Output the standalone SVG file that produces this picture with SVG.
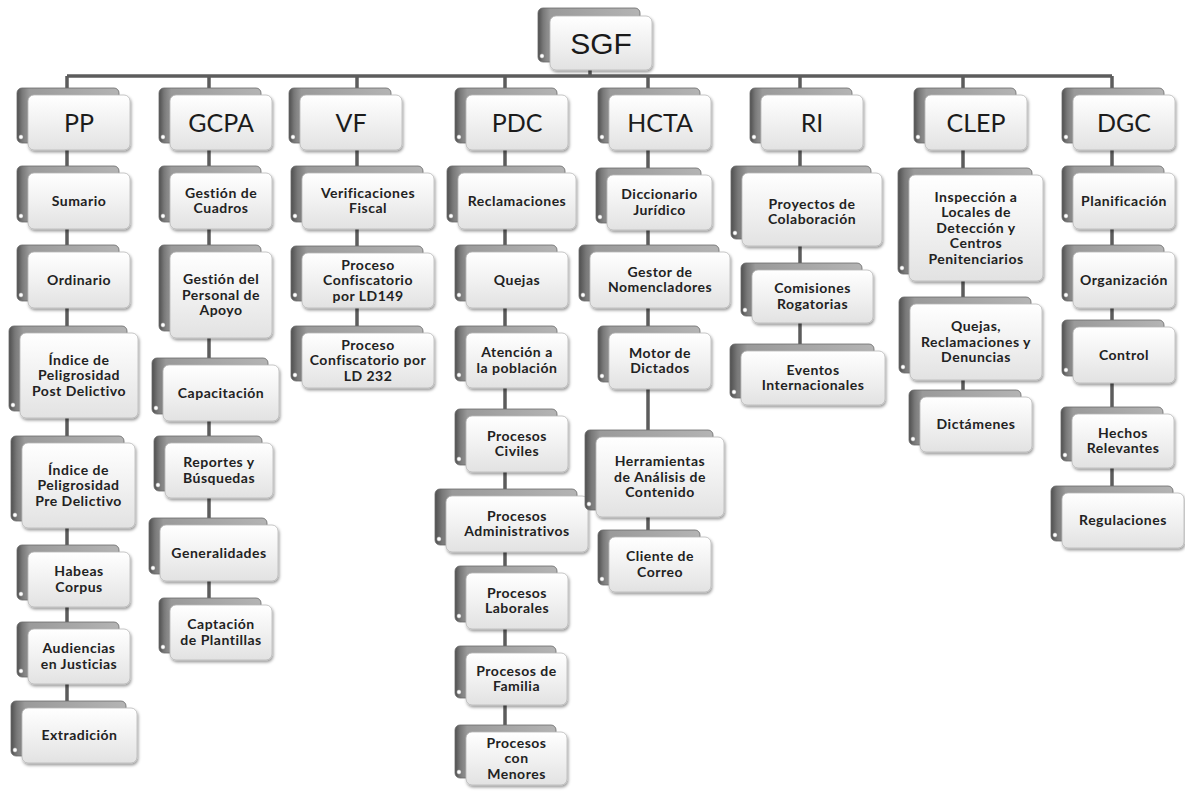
<svg xmlns="http://www.w3.org/2000/svg" width="1185" height="794" viewBox="0 0 1185 794">
  <defs>
    <linearGradient id="gBack" x1="0" y1="0" x2="1" y2="0">
      <stop offset="0" stop-color="#4f4f4f"/>
      <stop offset="0.05" stop-color="#787878"/>
      <stop offset="0.12" stop-color="#9a9a9a"/>
      <stop offset="1" stop-color="#b4b4b4"/>
    </linearGradient>
    <linearGradient id="gFront" x1="0" y1="0" x2="0" y2="1">
      <stop offset="0" stop-color="#ffffff"/>
      <stop offset="0.5" stop-color="#f1f1f1"/>
      <stop offset="1" stop-color="#e2e2e2"/>
    </linearGradient>
    <filter id="sh" x="-10%" y="-10%" width="130%" height="140%">
      <feDropShadow dx="1" dy="2" stdDeviation="1.4" flood-color="#000" flood-opacity="0.4"/>
    </filter>
  </defs>
  <style>
    .bk { fill: url(#gBack); stroke: #6a6a6a; stroke-width: 0.8; }
    .fr { fill: url(#gFront); stroke: #b8b8b8; stroke-width: 0.8; filter: url(#sh); }
    .dot { fill: #ffffff; stroke: #7a7a7a; stroke-width: 0.5; }
    .ln { stroke: #5c5c5c; stroke-width: 3.5; fill: none; }
    .root { font-family: "Liberation Sans", Arial, sans-serif; font-size: 30px; fill: #1a1a1a; text-anchor: middle; }
    .hd { font-family: Lato, "Open Sans", sans-serif; font-size: 25px; fill: #1c1c1c; text-anchor: middle; }
    .lb { font-family: Lato, "Open Sans", sans-serif; font-weight: 700; font-size: 14px; letter-spacing: 0.5px; fill: #222222; text-anchor: middle; }
  </style>
  <rect width="1185" height="794" fill="#ffffff"/>

  <!-- connectors -->
  <g id="connectors">
    <line class="ln" x1="590" y1="68" x2="590" y2="76"/>
    <line class="ln" x1="67" y1="76" x2="1112" y2="76"/>
    <line class="ln" x1="67" y1="76" x2="67" y2="703"/>
    <line class="ln" x1="209" y1="76" x2="209" y2="600"/>
    <line class="ln" x1="357" y1="76" x2="357" y2="328"/>
    <line class="ln" x1="505" y1="76" x2="505" y2="727"/>
    <line class="ln" x1="648" y1="76" x2="648" y2="532"/>
    <line class="ln" x1="800" y1="76" x2="800" y2="346"/>
    <line class="ln" x1="963" y1="76" x2="963" y2="390"/>
    <line class="ln" x1="1112" y1="76" x2="1112" y2="488"/>
  </g>

  <!-- root -->
  <g id="n-sgf">
    <rect class="bk" x="538" y="8" width="102" height="54" rx="5"/>
    <circle class="dot" cx="542" cy="56" r="2.2"/>
    <rect class="fr" x="550" y="16" width="102" height="54" rx="6"/>
    <text class="root" x="601" y="54">SGF</text>
  </g>

  <!-- column headers -->
  <g id="n-pp">
    <rect class="bk" x="17" y="88" width="102" height="55" rx="5"/>
    <circle class="dot" cx="21" cy="137" r="2.2"/>
    <rect class="fr" x="28" y="95" width="102" height="55" rx="6"/>
    <text class="hd" x="79" y="131.5">PP</text>
  </g>
  <g id="n-gcpa">
    <rect class="bk" x="159" y="88" width="102" height="55" rx="5"/>
    <circle class="dot" cx="163" cy="137" r="2.2"/>
    <rect class="fr" x="170" y="95" width="102" height="55" rx="6"/>
    <text class="hd" x="221" y="131.5">GCPA</text>
  </g>
  <g id="n-vf">
    <rect class="bk" x="289" y="88" width="102" height="55" rx="5"/>
    <circle class="dot" cx="293" cy="137" r="2.2"/>
    <rect class="fr" x="300" y="95" width="102" height="55" rx="6"/>
    <text class="hd" x="351" y="131.5">VF</text>
  </g>
  <g id="n-pdc">
    <rect class="bk" x="455" y="88" width="102" height="55" rx="5"/>
    <circle class="dot" cx="459" cy="137" r="2.2"/>
    <rect class="fr" x="466" y="95" width="102" height="55" rx="6"/>
    <text class="hd" x="517" y="131.5">PDC</text>
  </g>
  <g id="n-hcta">
    <rect class="bk" x="598" y="88" width="102" height="55" rx="5"/>
    <circle class="dot" cx="602" cy="137" r="2.2"/>
    <rect class="fr" x="609" y="95" width="102" height="55" rx="6"/>
    <text class="hd" x="660" y="131.5">HCTA</text>
  </g>
  <g id="n-ri">
    <rect class="bk" x="750" y="88" width="102" height="55" rx="5"/>
    <circle class="dot" cx="754" cy="137" r="2.2"/>
    <rect class="fr" x="761" y="95" width="102" height="55" rx="6"/>
    <text class="hd" x="812" y="131.5">RI</text>
  </g>
  <g id="n-clep">
    <rect class="bk" x="914" y="88" width="102" height="55" rx="5"/>
    <circle class="dot" cx="918" cy="137" r="2.2"/>
    <rect class="fr" x="925" y="95" width="102" height="55" rx="6"/>
    <text class="hd" x="976" y="131.5">CLEP</text>
  </g>
  <g id="n-dgc">
    <rect class="bk" x="1062" y="88" width="102" height="55" rx="5"/>
    <circle class="dot" cx="1066" cy="137" r="2.2"/>
    <rect class="fr" x="1073" y="95" width="102" height="55" rx="6"/>
    <text class="hd" x="1124" y="131.5">DGC</text>
  </g>

  <!-- PP -->
  <g id="n-pp-sumario">
    <rect class="bk" x="17" y="166" width="102" height="56" rx="5"/>
    <circle class="dot" cx="21" cy="216" r="2.2"/>
    <rect class="fr" x="28" y="173" width="102" height="56" rx="6"/>
    <text class="lb" x="79" y="205.5">Sumario</text>
  </g>
  <g id="n-pp-ordinario">
    <rect class="bk" x="17" y="245" width="102" height="56" rx="5"/>
    <circle class="dot" cx="21" cy="295" r="2.2"/>
    <rect class="fr" x="28" y="252" width="102" height="56" rx="6"/>
    <text class="lb" x="79" y="284.5">Ordinario</text>
  </g>
  <g id="n-pp-post">
    <rect class="bk" x="9" y="326" width="118" height="85" rx="5"/>
    <circle class="dot" cx="13" cy="405" r="2.2"/>
    <rect class="fr" x="20" y="333" width="118" height="85" rx="6"/>
    <text class="lb" x="79" y="364.5"><tspan x="79">Índice de</tspan><tspan x="79" dy="15.5">Peligrosidad</tspan><tspan x="79" dy="15.5">Post Delictivo</tspan></text>
  </g>
  <g id="n-pp-pre">
    <rect class="bk" x="11" y="436" width="113" height="85" rx="5"/>
    <circle class="dot" cx="15" cy="515" r="2.2"/>
    <rect class="fr" x="22" y="443" width="113" height="85" rx="6"/>
    <text class="lb" x="78.5" y="474.5"><tspan x="78.5">Índice de</tspan><tspan x="78.5" dy="15.5">Peligrosidad</tspan><tspan x="78.5" dy="15.5">Pre Delictivo</tspan></text>
  </g>
  <g id="n-pp-habeas">
    <rect class="bk" x="17" y="545" width="102" height="55" rx="5"/>
    <circle class="dot" cx="21" cy="594" r="2.2"/>
    <rect class="fr" x="28" y="552" width="102" height="55" rx="6"/>
    <text class="lb" x="79" y="576.25"><tspan x="79">Habeas</tspan><tspan x="79" dy="15.5">Corpus</tspan></text>
  </g>
  <g id="n-pp-audiencias">
    <rect class="bk" x="17" y="622" width="102" height="55" rx="5"/>
    <circle class="dot" cx="21" cy="671" r="2.2"/>
    <rect class="fr" x="28" y="629" width="102" height="55" rx="6"/>
    <text class="lb" x="79" y="653.25"><tspan x="79">Audiencias</tspan><tspan x="79" dy="15.5">en Justicias</tspan></text>
  </g>
  <g id="n-pp-extradicion">
    <rect class="bk" x="11" y="701" width="115" height="55" rx="5"/>
    <circle class="dot" cx="15" cy="750" r="2.2"/>
    <rect class="fr" x="22" y="708" width="115" height="55" rx="6"/>
    <text class="lb" x="79.5" y="740">Extradición</text>
  </g>

  <!-- GCPA -->
  <g id="n-gcpa-cuadros">
    <rect class="bk" x="159" y="166" width="102" height="56" rx="5"/>
    <circle class="dot" cx="163" cy="216" r="2.2"/>
    <rect class="fr" x="170" y="173" width="102" height="56" rx="6"/>
    <text class="lb" x="221" y="197.75"><tspan x="221">Gestión de</tspan><tspan x="221" dy="15.5">Cuadros</tspan></text>
  </g>
  <g id="n-gcpa-personal">
    <rect class="bk" x="159" y="245" width="102" height="86" rx="5"/>
    <circle class="dot" cx="163" cy="325" r="2.2"/>
    <rect class="fr" x="170" y="252" width="102" height="86" rx="6"/>
    <text class="lb" x="221" y="284"><tspan x="221">Gestión del</tspan><tspan x="221" dy="15.5">Personal de</tspan><tspan x="221" dy="15.5">Apoyo</tspan></text>
  </g>
  <g id="n-gcpa-capacitacion">
    <rect class="bk" x="152" y="358" width="116" height="56" rx="5"/>
    <circle class="dot" cx="156" cy="408" r="2.2"/>
    <rect class="fr" x="163" y="365" width="116" height="56" rx="6"/>
    <text class="lb" x="221" y="397.5">Capacitación</text>
  </g>
  <g id="n-gcpa-reportes">
    <rect class="bk" x="154" y="436" width="108" height="55" rx="5"/>
    <circle class="dot" cx="158" cy="485" r="2.2"/>
    <rect class="fr" x="165" y="443" width="108" height="55" rx="6"/>
    <text class="lb" x="219" y="467.25"><tspan x="219">Reportes y</tspan><tspan x="219" dy="15.5">Búsquedas</tspan></text>
  </g>
  <g id="n-gcpa-generalidades">
    <rect class="bk" x="149" y="518" width="118" height="56" rx="5"/>
    <circle class="dot" cx="153" cy="568" r="2.2"/>
    <rect class="fr" x="160" y="525" width="118" height="56" rx="6"/>
    <text class="lb" x="219" y="557.5">Generalidades</text>
  </g>
  <g id="n-gcpa-plantillas">
    <rect class="bk" x="159" y="598" width="102" height="55" rx="5"/>
    <circle class="dot" cx="163" cy="647" r="2.2"/>
    <rect class="fr" x="170" y="605" width="102" height="55" rx="6"/>
    <text class="lb" x="221" y="629.25"><tspan x="221">Captación</tspan><tspan x="221" dy="15.5">de Plantillas</tspan></text>
  </g>

  <!-- VF -->
  <g id="n-vf-verificaciones">
    <rect class="bk" x="291" y="166" width="132" height="56" rx="5"/>
    <circle class="dot" cx="295" cy="216" r="2.2"/>
    <rect class="fr" x="302" y="173" width="132" height="56" rx="6"/>
    <text class="lb" x="368" y="197.75"><tspan x="368">Verificaciones</tspan><tspan x="368" dy="15.5">Fiscal</tspan></text>
  </g>
  <g id="n-vf-ld149">
    <rect class="bk" x="291" y="246" width="132" height="55" rx="5"/>
    <circle class="dot" cx="295" cy="295" r="2.2"/>
    <rect class="fr" x="302" y="253" width="132" height="55" rx="6"/>
    <text class="lb" x="368" y="269.5"><tspan x="368">Proceso</tspan><tspan x="368" dy="15.5">Confiscatorio</tspan><tspan x="368" dy="15.5">por LD149</tspan></text>
  </g>
  <g id="n-vf-ld232">
    <rect class="bk" x="291" y="326" width="132" height="55" rx="5"/>
    <circle class="dot" cx="295" cy="375" r="2.2"/>
    <rect class="fr" x="302" y="333" width="132" height="55" rx="6"/>
    <text class="lb" x="368" y="349.5"><tspan x="368">Proceso</tspan><tspan x="368" dy="15.5">Confiscatorio por</tspan><tspan x="368" dy="15.5">LD 232</tspan></text>
  </g>

  <!-- PDC -->
  <g id="n-pdc-reclamaciones">
    <rect class="bk" x="447" y="166" width="118" height="56" rx="5"/>
    <circle class="dot" cx="451" cy="216" r="2.2"/>
    <rect class="fr" x="458" y="173" width="118" height="56" rx="6"/>
    <text class="lb" x="517" y="205.5">Reclamaciones</text>
  </g>
  <g id="n-pdc-quejas">
    <rect class="bk" x="455" y="245" width="102" height="56" rx="5"/>
    <circle class="dot" cx="459" cy="295" r="2.2"/>
    <rect class="fr" x="466" y="252" width="102" height="56" rx="6"/>
    <text class="lb" x="517" y="284.5">Quejas</text>
  </g>
  <g id="n-pdc-atencion">
    <rect class="bk" x="455" y="326" width="102" height="55" rx="5"/>
    <circle class="dot" cx="459" cy="375" r="2.2"/>
    <rect class="fr" x="466" y="333" width="102" height="55" rx="6"/>
    <text class="lb" x="517" y="357.25"><tspan x="517">Atención a</tspan><tspan x="517" dy="15.5">la población</tspan></text>
  </g>
  <g id="n-pdc-civiles">
    <rect class="bk" x="455" y="409" width="102" height="56" rx="5"/>
    <circle class="dot" cx="459" cy="459" r="2.2"/>
    <rect class="fr" x="466" y="416" width="102" height="56" rx="6"/>
    <text class="lb" x="517" y="440.75"><tspan x="517">Procesos</tspan><tspan x="517" dy="15.5">Civiles</tspan></text>
  </g>
  <g id="n-pdc-administrativos">
    <rect class="bk" x="435" y="489" width="142" height="56" rx="5"/>
    <circle class="dot" cx="439" cy="539" r="2.2"/>
    <rect class="fr" x="446" y="496" width="142" height="56" rx="6"/>
    <text class="lb" x="517" y="520.75"><tspan x="517">Procesos</tspan><tspan x="517" dy="15.5">Administrativos</tspan></text>
  </g>
  <g id="n-pdc-laborales">
    <rect class="bk" x="455" y="566" width="102" height="56" rx="5"/>
    <circle class="dot" cx="459" cy="616" r="2.2"/>
    <rect class="fr" x="466" y="573" width="102" height="56" rx="6"/>
    <text class="lb" x="517" y="597.75"><tspan x="517">Procesos</tspan><tspan x="517" dy="15.5">Laborales</tspan></text>
  </g>
  <g id="n-pdc-familia">
    <rect class="bk" x="455" y="646" width="101" height="52" rx="5"/>
    <circle class="dot" cx="459" cy="692" r="2.2"/>
    <rect class="fr" x="466" y="653" width="101" height="52" rx="6"/>
    <text class="lb" x="516.5" y="675.75"><tspan x="516.5">Procesos de</tspan><tspan x="516.5" dy="15.5">Familia</tspan></text>
  </g>
  <g id="n-pdc-menores">
    <rect class="bk" x="455" y="725" width="101" height="53" rx="5"/>
    <circle class="dot" cx="459" cy="772" r="2.2"/>
    <rect class="fr" x="466" y="732" width="101" height="53" rx="6"/>
    <text class="lb" x="516.5" y="747.5"><tspan x="516.5">Procesos</tspan><tspan x="516.5" dy="15.5">con</tspan><tspan x="516.5" dy="15.5">Menores</tspan></text>
  </g>

  <!-- HCTA -->
  <g id="n-hcta-diccionario">
    <rect class="bk" x="596" y="168" width="105" height="55" rx="5"/>
    <circle class="dot" cx="600" cy="217" r="2.2"/>
    <rect class="fr" x="607" y="175" width="105" height="55" rx="6"/>
    <text class="lb" x="659.5" y="199.25"><tspan x="659.5">Diccionario</tspan><tspan x="659.5" dy="15.5">Jurídico</tspan></text>
  </g>
  <g id="n-hcta-gestor">
    <rect class="bk" x="579" y="245" width="140" height="56" rx="5"/>
    <circle class="dot" cx="583" cy="295" r="2.2"/>
    <rect class="fr" x="590" y="252" width="140" height="56" rx="6"/>
    <text class="lb" x="660" y="276.75"><tspan x="660">Gestor de</tspan><tspan x="660" dy="15.5">Nomencladores</tspan></text>
  </g>
  <g id="n-hcta-motor">
    <rect class="bk" x="598" y="326" width="102" height="56" rx="5"/>
    <circle class="dot" cx="602" cy="376" r="2.2"/>
    <rect class="fr" x="609" y="333" width="102" height="56" rx="6"/>
    <text class="lb" x="660" y="357.75"><tspan x="660">Motor de</tspan><tspan x="660" dy="15.5">Dictados</tspan></text>
  </g>
  <g id="n-hcta-herramientas">
    <rect class="bk" x="585" y="430" width="128" height="80" rx="5"/>
    <circle class="dot" cx="589" cy="504" r="2.2"/>
    <rect class="fr" x="596" y="437" width="128" height="80" rx="6"/>
    <text class="lb" x="660" y="466"><tspan x="660">Herramientas</tspan><tspan x="660" dy="15.5">de Análisis de</tspan><tspan x="660" dy="15.5">Contenido</tspan></text>
  </g>
  <g id="n-hcta-cliente">
    <rect class="bk" x="598" y="530" width="102" height="55" rx="5"/>
    <circle class="dot" cx="602" cy="579" r="2.2"/>
    <rect class="fr" x="609" y="537" width="102" height="55" rx="6"/>
    <text class="lb" x="660" y="561.25"><tspan x="660">Cliente de</tspan><tspan x="660" dy="15.5">Correo</tspan></text>
  </g>

  <!-- RI -->
  <g id="n-ri-proyectos">
    <rect class="bk" x="731" y="166" width="140" height="73" rx="5"/>
    <circle class="dot" cx="735" cy="233" r="2.2"/>
    <rect class="fr" x="742" y="173" width="140" height="73" rx="6"/>
    <text class="lb" x="812" y="208.75"><tspan x="812">Proyectos de</tspan><tspan x="812" dy="15.5">Colaboración</tspan></text>
  </g>
  <g id="n-ri-comisiones">
    <rect class="bk" x="741" y="263" width="121" height="53" rx="5"/>
    <circle class="dot" cx="745" cy="310" r="2.2"/>
    <rect class="fr" x="752" y="270" width="121" height="53" rx="6"/>
    <text class="lb" x="812.5" y="293.25"><tspan x="812.5">Comisiones</tspan><tspan x="812.5" dy="15.5">Rogatorias</tspan></text>
  </g>
  <g id="n-ri-eventos">
    <rect class="bk" x="730" y="344" width="144" height="54" rx="5"/>
    <circle class="dot" cx="734" cy="392" r="2.2"/>
    <rect class="fr" x="741" y="351" width="144" height="54" rx="6"/>
    <text class="lb" x="813" y="374.75"><tspan x="813">Eventos</tspan><tspan x="813" dy="15.5">Internacionales</tspan></text>
  </g>

  <!-- CLEP -->
  <g id="n-clep-inspeccion">
    <rect class="bk" x="898" y="168" width="134" height="106" rx="5"/>
    <circle class="dot" cx="902" cy="268" r="2.2"/>
    <rect class="fr" x="909" y="175" width="134" height="106" rx="6"/>
    <text class="lb" x="976" y="201.5"><tspan x="976">Inspección a</tspan><tspan x="976" dy="15.5">Locales de</tspan><tspan x="976" dy="15.5">Detección y</tspan><tspan x="976" dy="15.5">Centros</tspan><tspan x="976" dy="15.5">Penitenciarios</tspan></text>
  </g>
  <g id="n-clep-quejas">
    <rect class="bk" x="899" y="297" width="132" height="76" rx="5"/>
    <circle class="dot" cx="903" cy="367" r="2.2"/>
    <rect class="fr" x="910" y="304" width="132" height="76" rx="6"/>
    <text class="lb" x="976" y="331"><tspan x="976">Quejas,</tspan><tspan x="976" dy="15.5">Reclamaciones y</tspan><tspan x="976" dy="15.5">Denuncias</tspan></text>
  </g>
  <g id="n-clep-dictamenes">
    <rect class="bk" x="909" y="390" width="112" height="55" rx="5"/>
    <circle class="dot" cx="913" cy="439" r="2.2"/>
    <rect class="fr" x="920" y="397" width="112" height="55" rx="6"/>
    <text class="lb" x="976" y="429">Dictámenes</text>
  </g>

  <!-- DGC -->
  <g id="n-dgc-planificacion">
    <rect class="bk" x="1062" y="166" width="102" height="56" rx="5"/>
    <circle class="dot" cx="1066" cy="216" r="2.2"/>
    <rect class="fr" x="1073" y="173" width="102" height="56" rx="6"/>
    <text class="lb" x="1124" y="205.5">Planificación</text>
  </g>
  <g id="n-dgc-organizacion">
    <rect class="bk" x="1062" y="245" width="102" height="56" rx="5"/>
    <circle class="dot" cx="1066" cy="295" r="2.2"/>
    <rect class="fr" x="1073" y="252" width="102" height="56" rx="6"/>
    <text class="lb" x="1124" y="284.5">Organización</text>
  </g>
  <g id="n-dgc-control">
    <rect class="bk" x="1062" y="320" width="102" height="56" rx="5"/>
    <circle class="dot" cx="1066" cy="370" r="2.2"/>
    <rect class="fr" x="1073" y="327" width="102" height="56" rx="6"/>
    <text class="lb" x="1124" y="359.5">Control</text>
  </g>
  <g id="n-dgc-hechos">
    <rect class="bk" x="1061" y="407" width="102" height="54" rx="5"/>
    <circle class="dot" cx="1065" cy="455" r="2.2"/>
    <rect class="fr" x="1072" y="414" width="102" height="54" rx="6"/>
    <text class="lb" x="1123" y="437.75"><tspan x="1123">Hechos</tspan><tspan x="1123" dy="15.5">Relevantes</tspan></text>
  </g>
  <g id="n-dgc-regulaciones">
    <rect class="bk" x="1051" y="486" width="122" height="55" rx="5"/>
    <circle class="dot" cx="1055" cy="535" r="2.2"/>
    <rect class="fr" x="1062" y="493" width="122" height="55" rx="6"/>
    <text class="lb" x="1123" y="525">Regulaciones</text>
  </g>
</svg>
